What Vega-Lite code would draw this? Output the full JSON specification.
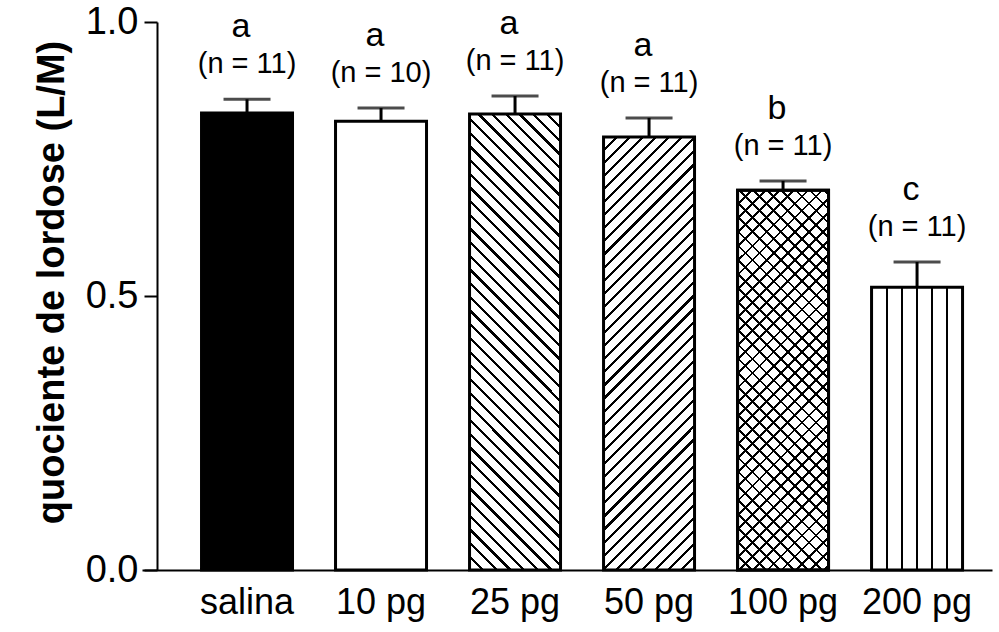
{
  "$schema": "https://vega.github.io/schema/vega-lite/v6.json",
  "width": 850,
  "height": 548,
  "autosize": "none",
  "padding": {"left": 142, "top": 22, "right": 7, "bottom": 62},
  "background": "white",
  "config": {"view": {"stroke": null}, "font": "Liberation Sans"},
  "data": {"values": [
    {"group": "salina", "mean": 0.834, "upper": 0.859, "letter": "a", "n": "(n = 11)"},
    {"group": "10 pg", "mean": 0.819, "upper": 0.843, "letter": "a", "n": "(n = 10)"},
    {"group": "25 pg", "mean": 0.832, "upper": 0.865, "letter": "a", "n": "(n = 11)"},
    {"group": "50 pg", "mean": 0.790, "upper": 0.825, "letter": "a", "n": "(n = 11)"},
    {"group": "100 pg", "mean": 0.693, "upper": 0.710, "letter": "b", "n": "(n = 11)"},
    {"group": "200 pg", "mean": 0.516, "upper": 0.562, "letter": "c", "n": "(n = 11)"}
  ]},
  "encoding": {
    "x": {"field": "group", "type": "nominal",
      "scale": {"domain": ["salina", "10 pg", "25 pg", "50 pg", "100 pg", "200 pg"], "paddingInner": 0.321, "paddingOuter": 0.332, "align": 0.669},
      "axis": {"title": null, "labelAngle": 0, "ticks": false, "domainColor": "black", "domainWidth": 2, "labelFontSize": 36, "labelColor": "black", "labelPadding": 15}}
  },
  "layer": [
    {"transform": [{"filter": "datum.group === 'salina'"}],
     "mark": {"type": "bar", "fill": "black", "stroke": "black", "strokeWidth": 3},
     "encoding": {"y": {"field": "mean", "type": "quantitative",
        "scale": {"domain": [0, 1], "nice": false},
        "axis": {"title": "quociente de lordose (L/M)", "values": [0, 0.5, 1], "format": ".1f", "offset": -15, "tickSize": 13, "tickWidth": 2, "tickColor": "black", "domainWidth": 2, "domainColor": "black", "labelFontSize": 38, "labelColor": "black", "labelPadding": 6, "titleFontSize": 38, "titleFontWeight": "bold", "titleColor": "black", "titlePadding": 14, "titleY": 260, "grid": false}}}},
    {"transform": [{"filter": "datum.group === '10 pg'"}],
     "mark": {"type": "bar", "fill": "white", "stroke": "black", "strokeWidth": 3},
     "encoding": {"y": {"field": "mean", "type": "quantitative"}}},
    {"transform": [{"filter": "datum.group === '25 pg'"}],
     "mark": {"type": "bar", "stroke": "black", "strokeWidth": 3,
       "fill": {"gradient": "linear", "x1": 0, "y1": 1, "x2": 0.2303, "y2": -0.1538, "stops": [
        {"offset": 0, "color": "white"},
        {"offset": 0.022, "color": "white"}, {"offset": 0.022, "color": "black"}, {"offset": 0.028, "color": "black"}, {"offset": 0.028, "color": "white"},
        {"offset": 0.047, "color": "white"}, {"offset": 0.047, "color": "black"}, {"offset": 0.053, "color": "black"}, {"offset": 0.053, "color": "white"},
        {"offset": 0.072, "color": "white"}, {"offset": 0.072, "color": "black"}, {"offset": 0.078, "color": "black"}, {"offset": 0.078, "color": "white"},
        {"offset": 0.097, "color": "white"}, {"offset": 0.097, "color": "black"}, {"offset": 0.103, "color": "black"}, {"offset": 0.103, "color": "white"},
        {"offset": 0.122, "color": "white"}, {"offset": 0.122, "color": "black"}, {"offset": 0.128, "color": "black"}, {"offset": 0.128, "color": "white"},
        {"offset": 0.147, "color": "white"}, {"offset": 0.147, "color": "black"}, {"offset": 0.153, "color": "black"}, {"offset": 0.153, "color": "white"},
        {"offset": 0.172, "color": "white"}, {"offset": 0.172, "color": "black"}, {"offset": 0.178, "color": "black"}, {"offset": 0.178, "color": "white"},
        {"offset": 0.197, "color": "white"}, {"offset": 0.197, "color": "black"}, {"offset": 0.203, "color": "black"}, {"offset": 0.203, "color": "white"},
        {"offset": 0.222, "color": "white"}, {"offset": 0.222, "color": "black"}, {"offset": 0.228, "color": "black"}, {"offset": 0.228, "color": "white"},
        {"offset": 0.247, "color": "white"}, {"offset": 0.247, "color": "black"}, {"offset": 0.253, "color": "black"}, {"offset": 0.253, "color": "white"},
        {"offset": 0.272, "color": "white"}, {"offset": 0.272, "color": "black"}, {"offset": 0.278, "color": "black"}, {"offset": 0.278, "color": "white"},
        {"offset": 0.297, "color": "white"}, {"offset": 0.297, "color": "black"}, {"offset": 0.303, "color": "black"}, {"offset": 0.303, "color": "white"},
        {"offset": 0.322, "color": "white"}, {"offset": 0.322, "color": "black"}, {"offset": 0.328, "color": "black"}, {"offset": 0.328, "color": "white"},
        {"offset": 0.347, "color": "white"}, {"offset": 0.347, "color": "black"}, {"offset": 0.353, "color": "black"}, {"offset": 0.353, "color": "white"},
        {"offset": 0.372, "color": "white"}, {"offset": 0.372, "color": "black"}, {"offset": 0.378, "color": "black"}, {"offset": 0.378, "color": "white"},
        {"offset": 0.397, "color": "white"}, {"offset": 0.397, "color": "black"}, {"offset": 0.403, "color": "black"}, {"offset": 0.403, "color": "white"},
        {"offset": 0.422, "color": "white"}, {"offset": 0.422, "color": "black"}, {"offset": 0.428, "color": "black"}, {"offset": 0.428, "color": "white"},
        {"offset": 0.447, "color": "white"}, {"offset": 0.447, "color": "black"}, {"offset": 0.453, "color": "black"}, {"offset": 0.453, "color": "white"},
        {"offset": 0.472, "color": "white"}, {"offset": 0.472, "color": "black"}, {"offset": 0.478, "color": "black"}, {"offset": 0.478, "color": "white"},
        {"offset": 0.497, "color": "white"}, {"offset": 0.497, "color": "black"}, {"offset": 0.503, "color": "black"}, {"offset": 0.503, "color": "white"},
        {"offset": 0.522, "color": "white"}, {"offset": 0.522, "color": "black"}, {"offset": 0.528, "color": "black"}, {"offset": 0.528, "color": "white"},
        {"offset": 0.547, "color": "white"}, {"offset": 0.547, "color": "black"}, {"offset": 0.553, "color": "black"}, {"offset": 0.553, "color": "white"},
        {"offset": 0.572, "color": "white"}, {"offset": 0.572, "color": "black"}, {"offset": 0.578, "color": "black"}, {"offset": 0.578, "color": "white"},
        {"offset": 0.597, "color": "white"}, {"offset": 0.597, "color": "black"}, {"offset": 0.603, "color": "black"}, {"offset": 0.603, "color": "white"},
        {"offset": 0.622, "color": "white"}, {"offset": 0.622, "color": "black"}, {"offset": 0.628, "color": "black"}, {"offset": 0.628, "color": "white"},
        {"offset": 0.647, "color": "white"}, {"offset": 0.647, "color": "black"}, {"offset": 0.653, "color": "black"}, {"offset": 0.653, "color": "white"},
        {"offset": 0.672, "color": "white"}, {"offset": 0.672, "color": "black"}, {"offset": 0.678, "color": "black"}, {"offset": 0.678, "color": "white"},
        {"offset": 0.697, "color": "white"}, {"offset": 0.697, "color": "black"}, {"offset": 0.703, "color": "black"}, {"offset": 0.703, "color": "white"},
        {"offset": 0.722, "color": "white"}, {"offset": 0.722, "color": "black"}, {"offset": 0.728, "color": "black"}, {"offset": 0.728, "color": "white"},
        {"offset": 0.747, "color": "white"}, {"offset": 0.747, "color": "black"}, {"offset": 0.753, "color": "black"}, {"offset": 0.753, "color": "white"},
        {"offset": 0.772, "color": "white"}, {"offset": 0.772, "color": "black"}, {"offset": 0.778, "color": "black"}, {"offset": 0.778, "color": "white"},
        {"offset": 0.797, "color": "white"}, {"offset": 0.797, "color": "black"}, {"offset": 0.803, "color": "black"}, {"offset": 0.803, "color": "white"},
        {"offset": 0.822, "color": "white"}, {"offset": 0.822, "color": "black"}, {"offset": 0.828, "color": "black"}, {"offset": 0.828, "color": "white"},
        {"offset": 0.847, "color": "white"}, {"offset": 0.847, "color": "black"}, {"offset": 0.853, "color": "black"}, {"offset": 0.853, "color": "white"},
        {"offset": 0.872, "color": "white"}, {"offset": 0.872, "color": "black"}, {"offset": 0.878, "color": "black"}, {"offset": 0.878, "color": "white"},
        {"offset": 0.897, "color": "white"}, {"offset": 0.897, "color": "black"}, {"offset": 0.903, "color": "black"}, {"offset": 0.903, "color": "white"},
        {"offset": 0.922, "color": "white"}, {"offset": 0.922, "color": "black"}, {"offset": 0.928, "color": "black"}, {"offset": 0.928, "color": "white"},
        {"offset": 0.947, "color": "white"}, {"offset": 0.947, "color": "black"}, {"offset": 0.953, "color": "black"}, {"offset": 0.953, "color": "white"},
        {"offset": 0.972, "color": "white"}, {"offset": 0.972, "color": "black"}, {"offset": 0.978, "color": "black"}, {"offset": 0.978, "color": "white"},
        {"offset": 1, "color": "white"}]}},
     "encoding": {"y": {"field": "mean", "type": "quantitative"}}},
    {"transform": [{"filter": "datum.group === '50 pg'"}],
     "mark": {"type": "bar", "stroke": "black", "strokeWidth": 3,
       "fill": {"gradient": "linear", "x1": 0, "y1": 0, "x2": 0.2436, "y2": 1.1589, "stops": [
        {"offset": 0, "color": "white"},
        {"offset": 0.022, "color": "white"}, {"offset": 0.022, "color": "black"}, {"offset": 0.028, "color": "black"}, {"offset": 0.028, "color": "white"},
        {"offset": 0.047, "color": "white"}, {"offset": 0.047, "color": "black"}, {"offset": 0.053, "color": "black"}, {"offset": 0.053, "color": "white"},
        {"offset": 0.072, "color": "white"}, {"offset": 0.072, "color": "black"}, {"offset": 0.078, "color": "black"}, {"offset": 0.078, "color": "white"},
        {"offset": 0.097, "color": "white"}, {"offset": 0.097, "color": "black"}, {"offset": 0.103, "color": "black"}, {"offset": 0.103, "color": "white"},
        {"offset": 0.122, "color": "white"}, {"offset": 0.122, "color": "black"}, {"offset": 0.128, "color": "black"}, {"offset": 0.128, "color": "white"},
        {"offset": 0.147, "color": "white"}, {"offset": 0.147, "color": "black"}, {"offset": 0.153, "color": "black"}, {"offset": 0.153, "color": "white"},
        {"offset": 0.172, "color": "white"}, {"offset": 0.172, "color": "black"}, {"offset": 0.178, "color": "black"}, {"offset": 0.178, "color": "white"},
        {"offset": 0.197, "color": "white"}, {"offset": 0.197, "color": "black"}, {"offset": 0.203, "color": "black"}, {"offset": 0.203, "color": "white"},
        {"offset": 0.222, "color": "white"}, {"offset": 0.222, "color": "black"}, {"offset": 0.228, "color": "black"}, {"offset": 0.228, "color": "white"},
        {"offset": 0.247, "color": "white"}, {"offset": 0.247, "color": "black"}, {"offset": 0.253, "color": "black"}, {"offset": 0.253, "color": "white"},
        {"offset": 0.272, "color": "white"}, {"offset": 0.272, "color": "black"}, {"offset": 0.278, "color": "black"}, {"offset": 0.278, "color": "white"},
        {"offset": 0.297, "color": "white"}, {"offset": 0.297, "color": "black"}, {"offset": 0.303, "color": "black"}, {"offset": 0.303, "color": "white"},
        {"offset": 0.322, "color": "white"}, {"offset": 0.322, "color": "black"}, {"offset": 0.328, "color": "black"}, {"offset": 0.328, "color": "white"},
        {"offset": 0.347, "color": "white"}, {"offset": 0.347, "color": "black"}, {"offset": 0.353, "color": "black"}, {"offset": 0.353, "color": "white"},
        {"offset": 0.372, "color": "white"}, {"offset": 0.372, "color": "black"}, {"offset": 0.378, "color": "black"}, {"offset": 0.378, "color": "white"},
        {"offset": 0.397, "color": "white"}, {"offset": 0.397, "color": "black"}, {"offset": 0.403, "color": "black"}, {"offset": 0.403, "color": "white"},
        {"offset": 0.422, "color": "white"}, {"offset": 0.422, "color": "black"}, {"offset": 0.428, "color": "black"}, {"offset": 0.428, "color": "white"},
        {"offset": 0.447, "color": "white"}, {"offset": 0.447, "color": "black"}, {"offset": 0.453, "color": "black"}, {"offset": 0.453, "color": "white"},
        {"offset": 0.472, "color": "white"}, {"offset": 0.472, "color": "black"}, {"offset": 0.478, "color": "black"}, {"offset": 0.478, "color": "white"},
        {"offset": 0.497, "color": "white"}, {"offset": 0.497, "color": "black"}, {"offset": 0.503, "color": "black"}, {"offset": 0.503, "color": "white"},
        {"offset": 0.522, "color": "white"}, {"offset": 0.522, "color": "black"}, {"offset": 0.528, "color": "black"}, {"offset": 0.528, "color": "white"},
        {"offset": 0.547, "color": "white"}, {"offset": 0.547, "color": "black"}, {"offset": 0.553, "color": "black"}, {"offset": 0.553, "color": "white"},
        {"offset": 0.572, "color": "white"}, {"offset": 0.572, "color": "black"}, {"offset": 0.578, "color": "black"}, {"offset": 0.578, "color": "white"},
        {"offset": 0.597, "color": "white"}, {"offset": 0.597, "color": "black"}, {"offset": 0.603, "color": "black"}, {"offset": 0.603, "color": "white"},
        {"offset": 0.622, "color": "white"}, {"offset": 0.622, "color": "black"}, {"offset": 0.628, "color": "black"}, {"offset": 0.628, "color": "white"},
        {"offset": 0.647, "color": "white"}, {"offset": 0.647, "color": "black"}, {"offset": 0.653, "color": "black"}, {"offset": 0.653, "color": "white"},
        {"offset": 0.672, "color": "white"}, {"offset": 0.672, "color": "black"}, {"offset": 0.678, "color": "black"}, {"offset": 0.678, "color": "white"},
        {"offset": 0.697, "color": "white"}, {"offset": 0.697, "color": "black"}, {"offset": 0.703, "color": "black"}, {"offset": 0.703, "color": "white"},
        {"offset": 0.722, "color": "white"}, {"offset": 0.722, "color": "black"}, {"offset": 0.728, "color": "black"}, {"offset": 0.728, "color": "white"},
        {"offset": 0.747, "color": "white"}, {"offset": 0.747, "color": "black"}, {"offset": 0.753, "color": "black"}, {"offset": 0.753, "color": "white"},
        {"offset": 0.772, "color": "white"}, {"offset": 0.772, "color": "black"}, {"offset": 0.778, "color": "black"}, {"offset": 0.778, "color": "white"},
        {"offset": 0.797, "color": "white"}, {"offset": 0.797, "color": "black"}, {"offset": 0.803, "color": "black"}, {"offset": 0.803, "color": "white"},
        {"offset": 0.822, "color": "white"}, {"offset": 0.822, "color": "black"}, {"offset": 0.828, "color": "black"}, {"offset": 0.828, "color": "white"},
        {"offset": 0.847, "color": "white"}, {"offset": 0.847, "color": "black"}, {"offset": 0.853, "color": "black"}, {"offset": 0.853, "color": "white"},
        {"offset": 0.872, "color": "white"}, {"offset": 0.872, "color": "black"}, {"offset": 0.878, "color": "black"}, {"offset": 0.878, "color": "white"},
        {"offset": 0.897, "color": "white"}, {"offset": 0.897, "color": "black"}, {"offset": 0.903, "color": "black"}, {"offset": 0.903, "color": "white"},
        {"offset": 0.922, "color": "white"}, {"offset": 0.922, "color": "black"}, {"offset": 0.928, "color": "black"}, {"offset": 0.928, "color": "white"},
        {"offset": 0.947, "color": "white"}, {"offset": 0.947, "color": "black"}, {"offset": 0.953, "color": "black"}, {"offset": 0.953, "color": "white"},
        {"offset": 0.972, "color": "white"}, {"offset": 0.972, "color": "black"}, {"offset": 0.978, "color": "black"}, {"offset": 0.978, "color": "white"},
        {"offset": 1, "color": "white"}]}},
     "encoding": {"y": {"field": "mean", "type": "quantitative"}}},
    {"transform": [{"filter": "datum.group === '100 pg'"}],
     "mark": {"type": "bar", "stroke": "black", "strokeWidth": 3,
       "fill": {"gradient": "linear", "x1": 0, "y1": 1, "x2": 0.2809, "y2": -0.1725, "stops": [
        {"offset": 0, "color": "white"},
        {"offset": 0.027, "color": "white"}, {"offset": 0.027, "color": "black"}, {"offset": 0.033, "color": "black"}, {"offset": 0.033, "color": "white"},
        {"offset": 0.057, "color": "white"}, {"offset": 0.057, "color": "black"}, {"offset": 0.063, "color": "black"}, {"offset": 0.063, "color": "white"},
        {"offset": 0.087, "color": "white"}, {"offset": 0.087, "color": "black"}, {"offset": 0.093, "color": "black"}, {"offset": 0.093, "color": "white"},
        {"offset": 0.117, "color": "white"}, {"offset": 0.117, "color": "black"}, {"offset": 0.123, "color": "black"}, {"offset": 0.123, "color": "white"},
        {"offset": 0.147, "color": "white"}, {"offset": 0.147, "color": "black"}, {"offset": 0.153, "color": "black"}, {"offset": 0.153, "color": "white"},
        {"offset": 0.177, "color": "white"}, {"offset": 0.177, "color": "black"}, {"offset": 0.183, "color": "black"}, {"offset": 0.183, "color": "white"},
        {"offset": 0.207, "color": "white"}, {"offset": 0.207, "color": "black"}, {"offset": 0.213, "color": "black"}, {"offset": 0.213, "color": "white"},
        {"offset": 0.237, "color": "white"}, {"offset": 0.237, "color": "black"}, {"offset": 0.243, "color": "black"}, {"offset": 0.243, "color": "white"},
        {"offset": 0.267, "color": "white"}, {"offset": 0.267, "color": "black"}, {"offset": 0.273, "color": "black"}, {"offset": 0.273, "color": "white"},
        {"offset": 0.297, "color": "white"}, {"offset": 0.297, "color": "black"}, {"offset": 0.303, "color": "black"}, {"offset": 0.303, "color": "white"},
        {"offset": 0.327, "color": "white"}, {"offset": 0.327, "color": "black"}, {"offset": 0.333, "color": "black"}, {"offset": 0.333, "color": "white"},
        {"offset": 0.357, "color": "white"}, {"offset": 0.357, "color": "black"}, {"offset": 0.363, "color": "black"}, {"offset": 0.363, "color": "white"},
        {"offset": 0.387, "color": "white"}, {"offset": 0.387, "color": "black"}, {"offset": 0.393, "color": "black"}, {"offset": 0.393, "color": "white"},
        {"offset": 0.417, "color": "white"}, {"offset": 0.417, "color": "black"}, {"offset": 0.423, "color": "black"}, {"offset": 0.423, "color": "white"},
        {"offset": 0.447, "color": "white"}, {"offset": 0.447, "color": "black"}, {"offset": 0.453, "color": "black"}, {"offset": 0.453, "color": "white"},
        {"offset": 0.477, "color": "white"}, {"offset": 0.477, "color": "black"}, {"offset": 0.483, "color": "black"}, {"offset": 0.483, "color": "white"},
        {"offset": 0.507, "color": "white"}, {"offset": 0.507, "color": "black"}, {"offset": 0.513, "color": "black"}, {"offset": 0.513, "color": "white"},
        {"offset": 0.537, "color": "white"}, {"offset": 0.537, "color": "black"}, {"offset": 0.543, "color": "black"}, {"offset": 0.543, "color": "white"},
        {"offset": 0.567, "color": "white"}, {"offset": 0.567, "color": "black"}, {"offset": 0.573, "color": "black"}, {"offset": 0.573, "color": "white"},
        {"offset": 0.597, "color": "white"}, {"offset": 0.597, "color": "black"}, {"offset": 0.603, "color": "black"}, {"offset": 0.603, "color": "white"},
        {"offset": 0.627, "color": "white"}, {"offset": 0.627, "color": "black"}, {"offset": 0.633, "color": "black"}, {"offset": 0.633, "color": "white"},
        {"offset": 0.657, "color": "white"}, {"offset": 0.657, "color": "black"}, {"offset": 0.663, "color": "black"}, {"offset": 0.663, "color": "white"},
        {"offset": 0.687, "color": "white"}, {"offset": 0.687, "color": "black"}, {"offset": 0.693, "color": "black"}, {"offset": 0.693, "color": "white"},
        {"offset": 0.717, "color": "white"}, {"offset": 0.717, "color": "black"}, {"offset": 0.723, "color": "black"}, {"offset": 0.723, "color": "white"},
        {"offset": 0.747, "color": "white"}, {"offset": 0.747, "color": "black"}, {"offset": 0.753, "color": "black"}, {"offset": 0.753, "color": "white"},
        {"offset": 0.777, "color": "white"}, {"offset": 0.777, "color": "black"}, {"offset": 0.783, "color": "black"}, {"offset": 0.783, "color": "white"},
        {"offset": 0.807, "color": "white"}, {"offset": 0.807, "color": "black"}, {"offset": 0.813, "color": "black"}, {"offset": 0.813, "color": "white"},
        {"offset": 0.837, "color": "white"}, {"offset": 0.837, "color": "black"}, {"offset": 0.843, "color": "black"}, {"offset": 0.843, "color": "white"},
        {"offset": 0.867, "color": "white"}, {"offset": 0.867, "color": "black"}, {"offset": 0.873, "color": "black"}, {"offset": 0.873, "color": "white"},
        {"offset": 0.897, "color": "white"}, {"offset": 0.897, "color": "black"}, {"offset": 0.903, "color": "black"}, {"offset": 0.903, "color": "white"},
        {"offset": 0.927, "color": "white"}, {"offset": 0.927, "color": "black"}, {"offset": 0.933, "color": "black"}, {"offset": 0.933, "color": "white"},
        {"offset": 0.957, "color": "white"}, {"offset": 0.957, "color": "black"}, {"offset": 0.963, "color": "black"}, {"offset": 0.963, "color": "white"},
        {"offset": 0.987, "color": "white"}, {"offset": 0.987, "color": "black"}, {"offset": 0.993, "color": "black"}, {"offset": 0.993, "color": "white"},
        {"offset": 1, "color": "white"}]}},
     "encoding": {"y": {"field": "mean", "type": "quantitative"}}},
    {"transform": [{"filter": "datum.group === '100 pg'"}],
     "mark": {"type": "bar", "stroke": "black", "strokeWidth": 3,
       "fill": {"gradient": "linear", "x1": 0, "y1": 0, "x2": 0.2809, "y2": 1.1725, "stops": [
        {"offset": 0, "color": "rgba(0,0,0,0)"},
        {"offset": 0.027, "color": "rgba(0,0,0,0)"}, {"offset": 0.027, "color": "black"}, {"offset": 0.033, "color": "black"}, {"offset": 0.033, "color": "rgba(0,0,0,0)"},
        {"offset": 0.057, "color": "rgba(0,0,0,0)"}, {"offset": 0.057, "color": "black"}, {"offset": 0.063, "color": "black"}, {"offset": 0.063, "color": "rgba(0,0,0,0)"},
        {"offset": 0.087, "color": "rgba(0,0,0,0)"}, {"offset": 0.087, "color": "black"}, {"offset": 0.093, "color": "black"}, {"offset": 0.093, "color": "rgba(0,0,0,0)"},
        {"offset": 0.117, "color": "rgba(0,0,0,0)"}, {"offset": 0.117, "color": "black"}, {"offset": 0.123, "color": "black"}, {"offset": 0.123, "color": "rgba(0,0,0,0)"},
        {"offset": 0.147, "color": "rgba(0,0,0,0)"}, {"offset": 0.147, "color": "black"}, {"offset": 0.153, "color": "black"}, {"offset": 0.153, "color": "rgba(0,0,0,0)"},
        {"offset": 0.177, "color": "rgba(0,0,0,0)"}, {"offset": 0.177, "color": "black"}, {"offset": 0.183, "color": "black"}, {"offset": 0.183, "color": "rgba(0,0,0,0)"},
        {"offset": 0.207, "color": "rgba(0,0,0,0)"}, {"offset": 0.207, "color": "black"}, {"offset": 0.213, "color": "black"}, {"offset": 0.213, "color": "rgba(0,0,0,0)"},
        {"offset": 0.237, "color": "rgba(0,0,0,0)"}, {"offset": 0.237, "color": "black"}, {"offset": 0.243, "color": "black"}, {"offset": 0.243, "color": "rgba(0,0,0,0)"},
        {"offset": 0.267, "color": "rgba(0,0,0,0)"}, {"offset": 0.267, "color": "black"}, {"offset": 0.273, "color": "black"}, {"offset": 0.273, "color": "rgba(0,0,0,0)"},
        {"offset": 0.297, "color": "rgba(0,0,0,0)"}, {"offset": 0.297, "color": "black"}, {"offset": 0.303, "color": "black"}, {"offset": 0.303, "color": "rgba(0,0,0,0)"},
        {"offset": 0.327, "color": "rgba(0,0,0,0)"}, {"offset": 0.327, "color": "black"}, {"offset": 0.333, "color": "black"}, {"offset": 0.333, "color": "rgba(0,0,0,0)"},
        {"offset": 0.357, "color": "rgba(0,0,0,0)"}, {"offset": 0.357, "color": "black"}, {"offset": 0.363, "color": "black"}, {"offset": 0.363, "color": "rgba(0,0,0,0)"},
        {"offset": 0.387, "color": "rgba(0,0,0,0)"}, {"offset": 0.387, "color": "black"}, {"offset": 0.393, "color": "black"}, {"offset": 0.393, "color": "rgba(0,0,0,0)"},
        {"offset": 0.417, "color": "rgba(0,0,0,0)"}, {"offset": 0.417, "color": "black"}, {"offset": 0.423, "color": "black"}, {"offset": 0.423, "color": "rgba(0,0,0,0)"},
        {"offset": 0.447, "color": "rgba(0,0,0,0)"}, {"offset": 0.447, "color": "black"}, {"offset": 0.453, "color": "black"}, {"offset": 0.453, "color": "rgba(0,0,0,0)"},
        {"offset": 0.477, "color": "rgba(0,0,0,0)"}, {"offset": 0.477, "color": "black"}, {"offset": 0.483, "color": "black"}, {"offset": 0.483, "color": "rgba(0,0,0,0)"},
        {"offset": 0.507, "color": "rgba(0,0,0,0)"}, {"offset": 0.507, "color": "black"}, {"offset": 0.513, "color": "black"}, {"offset": 0.513, "color": "rgba(0,0,0,0)"},
        {"offset": 0.537, "color": "rgba(0,0,0,0)"}, {"offset": 0.537, "color": "black"}, {"offset": 0.543, "color": "black"}, {"offset": 0.543, "color": "rgba(0,0,0,0)"},
        {"offset": 0.567, "color": "rgba(0,0,0,0)"}, {"offset": 0.567, "color": "black"}, {"offset": 0.573, "color": "black"}, {"offset": 0.573, "color": "rgba(0,0,0,0)"},
        {"offset": 0.597, "color": "rgba(0,0,0,0)"}, {"offset": 0.597, "color": "black"}, {"offset": 0.603, "color": "black"}, {"offset": 0.603, "color": "rgba(0,0,0,0)"},
        {"offset": 0.627, "color": "rgba(0,0,0,0)"}, {"offset": 0.627, "color": "black"}, {"offset": 0.633, "color": "black"}, {"offset": 0.633, "color": "rgba(0,0,0,0)"},
        {"offset": 0.657, "color": "rgba(0,0,0,0)"}, {"offset": 0.657, "color": "black"}, {"offset": 0.663, "color": "black"}, {"offset": 0.663, "color": "rgba(0,0,0,0)"},
        {"offset": 0.687, "color": "rgba(0,0,0,0)"}, {"offset": 0.687, "color": "black"}, {"offset": 0.693, "color": "black"}, {"offset": 0.693, "color": "rgba(0,0,0,0)"},
        {"offset": 0.717, "color": "rgba(0,0,0,0)"}, {"offset": 0.717, "color": "black"}, {"offset": 0.723, "color": "black"}, {"offset": 0.723, "color": "rgba(0,0,0,0)"},
        {"offset": 0.747, "color": "rgba(0,0,0,0)"}, {"offset": 0.747, "color": "black"}, {"offset": 0.753, "color": "black"}, {"offset": 0.753, "color": "rgba(0,0,0,0)"},
        {"offset": 0.777, "color": "rgba(0,0,0,0)"}, {"offset": 0.777, "color": "black"}, {"offset": 0.783, "color": "black"}, {"offset": 0.783, "color": "rgba(0,0,0,0)"},
        {"offset": 0.807, "color": "rgba(0,0,0,0)"}, {"offset": 0.807, "color": "black"}, {"offset": 0.813, "color": "black"}, {"offset": 0.813, "color": "rgba(0,0,0,0)"},
        {"offset": 0.837, "color": "rgba(0,0,0,0)"}, {"offset": 0.837, "color": "black"}, {"offset": 0.843, "color": "black"}, {"offset": 0.843, "color": "rgba(0,0,0,0)"},
        {"offset": 0.867, "color": "rgba(0,0,0,0)"}, {"offset": 0.867, "color": "black"}, {"offset": 0.873, "color": "black"}, {"offset": 0.873, "color": "rgba(0,0,0,0)"},
        {"offset": 0.897, "color": "rgba(0,0,0,0)"}, {"offset": 0.897, "color": "black"}, {"offset": 0.903, "color": "black"}, {"offset": 0.903, "color": "rgba(0,0,0,0)"},
        {"offset": 0.927, "color": "rgba(0,0,0,0)"}, {"offset": 0.927, "color": "black"}, {"offset": 0.933, "color": "black"}, {"offset": 0.933, "color": "rgba(0,0,0,0)"},
        {"offset": 0.957, "color": "rgba(0,0,0,0)"}, {"offset": 0.957, "color": "black"}, {"offset": 0.963, "color": "black"}, {"offset": 0.963, "color": "rgba(0,0,0,0)"},
        {"offset": 0.987, "color": "rgba(0,0,0,0)"}, {"offset": 0.987, "color": "black"}, {"offset": 0.993, "color": "black"}, {"offset": 0.993, "color": "rgba(0,0,0,0)"},
        {"offset": 1, "color": "rgba(0,0,0,0)"}]}},
     "encoding": {"y": {"field": "mean", "type": "quantitative"}}},
    {"transform": [{"filter": "datum.group === '200 pg'"}],
     "mark": {"type": "bar", "stroke": "black", "strokeWidth": 3,
       "fill": {"gradient": "linear", "x1": 0, "y1": 0, "x2": 1, "y2": 0, "stops": [
        {"offset": 0, "color": "white"},
        {"offset": 0.155, "color": "white"}, {"offset": 0.155, "color": "black"}, {"offset": 0.178, "color": "black"}, {"offset": 0.178, "color": "white"},
        {"offset": 0.322, "color": "white"}, {"offset": 0.322, "color": "black"}, {"offset": 0.345, "color": "black"}, {"offset": 0.345, "color": "white"},
        {"offset": 0.489, "color": "white"}, {"offset": 0.489, "color": "black"}, {"offset": 0.511, "color": "black"}, {"offset": 0.511, "color": "white"},
        {"offset": 0.655, "color": "white"}, {"offset": 0.655, "color": "black"}, {"offset": 0.678, "color": "black"}, {"offset": 0.678, "color": "white"},
        {"offset": 0.822, "color": "white"}, {"offset": 0.822, "color": "black"}, {"offset": 0.845, "color": "black"}, {"offset": 0.845, "color": "white"},
        {"offset": 1, "color": "white"}]}},
     "encoding": {"y": {"field": "mean", "type": "quantitative"}}},
    {"mark": {"type": "rule", "color": "black", "strokeWidth": 3},
     "encoding": {"y": {"field": "mean", "type": "quantitative"}, "y2": {"field": "upper"}}},
    {"mark": {"type": "tick", "color": "black", "size": 47, "thickness": 3, "orient": "horizontal"},
     "encoding": {"y": {"field": "upper", "type": "quantitative"}}},
    {"mark": {"type": "text", "fontSize": 34, "color": "black", "baseline": "middle", "dy": -72, "dx": -6},
     "encoding": {"y": {"field": "upper", "type": "quantitative"}, "text": {"field": "letter"}}},
    {"mark": {"type": "text", "fontSize": 29, "color": "black", "baseline": "middle", "dy": -35},
     "encoding": {"y": {"field": "upper", "type": "quantitative"}, "text": {"field": "n"}}}
  ]
}
